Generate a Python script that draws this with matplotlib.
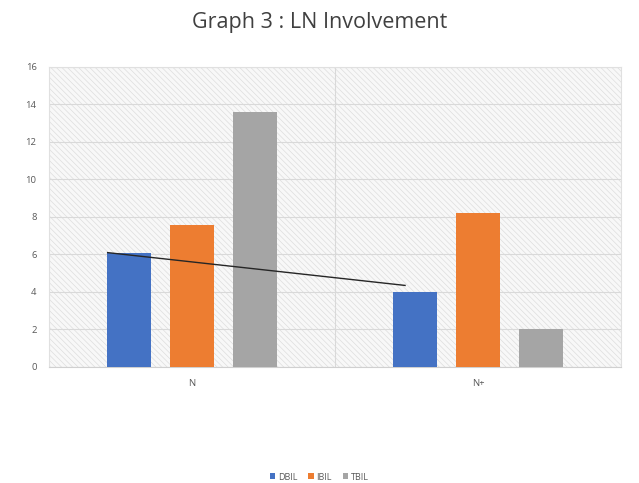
import matplotlib
matplotlib.use("Agg")
import matplotlib.pyplot as plt
import numpy as np

plt.rcParams['font.family'] = ['Open Sans', 'DejaVu Sans']
plt.rcParams['hatch.color'] = '#dedede'
plt.rcParams['hatch.linewidth'] = 0.5

categories = ['N', 'N+']
series = ['DBIL', 'IBIL', 'TBIL']
dbil = [6.1, 4.0]
ibil = [7.55, 8.2]
tbil = [13.6, 2.0]
colors = ['#4472C4', '#ED7D31', '#A5A5A5']

# hand-drawn trend line (category units, value units)
trend_x = [-0.295, 0.745]
trend_y = [6.1, 4.35]

yticks = [0, 2, 4, 6, 8, 10, 12, 14, 16]

fig = plt.figure(figsize=(6.39, 4.83), dpi=100)
ax = fig.add_axes([0.0767, 0.2402, 0.8951, 0.6211])

x = np.arange(len(categories))
width = 0.154
step = 0.219
for i, (name, vals) in enumerate(zip(series, [dbil, ibil, tbil])):
    ax.bar(x + (i - 1) * step, vals, width, color=colors[i], label=name,
           zorder=3, linewidth=0)

ax.plot(trend_x, trend_y, color='#262626', linewidth=1.0, zorder=4)

ax.set_xlim(-0.5, 1.5)
ax.set_ylim(0, 16)
ax.set_yticks(yticks)
ax.set_xticks(x)
ax.set_xticklabels(categories)

# hatched plot area
ax.patch.set_facecolor('#f8f8f8')
ax.patch.set_hatch('\\\\\\\\\\\\')
ax.patch.set_edgecolor('#dedede')

ax.grid(axis='y', color='#d9d9d9', linewidth=0.8, zorder=1)
ax.axvline(0.5, color='#d9d9d9', linewidth=0.8, zorder=1)

for side in ['top', 'left', 'right']:
    ax.spines[side].set_color('#e0e0e0')
    ax.spines[side].set_linewidth(0.8)
ax.spines['bottom'].set_color('#d0d0d0')
ax.spines['bottom'].set_linewidth(0.8)

ax.tick_params(axis='both', length=0, labelsize=6.8, colors='#595959')
ax.tick_params(axis='y', pad=9)
ax.tick_params(axis='x', pad=9)

fig.text(0.5, 0.953, 'Graph 3 : LN Involvement', ha='center', va='center',
         fontsize=15.5, color='#404040')

fig.legend(loc='center', bbox_to_anchor=(0.5, 1 - 477 / 483), ncol=3,
           frameon=False, fontsize=6.5, handlelength=0.6, handleheight=0.6,
           handletextpad=0.3, columnspacing=1.2, labelcolor='#595959')

fig.savefig('out.png', dpi=100)
